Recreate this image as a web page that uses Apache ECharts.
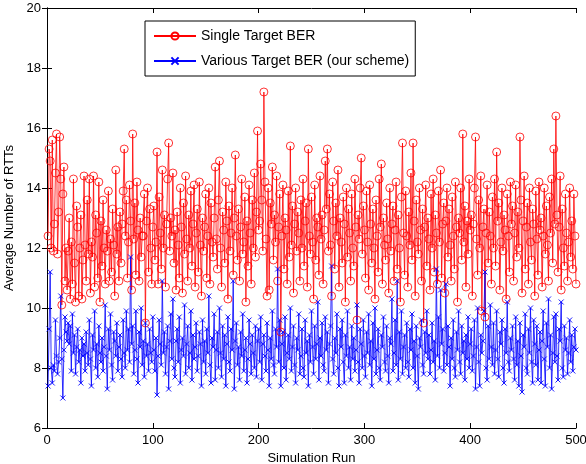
<!DOCTYPE html>
<html>
<head>
<meta charset="utf-8">
<script src="https://cdn.jsdelivr.net/npm/echarts@6/dist/echarts.min.js"></script>
<style>html,body{margin:0;padding:0;background:#fff}#c{width:586px;height:464px}</style>
</head>
<body>
<div id="c"></div>
<script>
const xTicks = [0, 100, 200, 300, 400, 500];
const yTicks = [6, 8, 10, 12, 14, 16, 18, 20];
const seriesNames = ["Single Target BER", "Various Target BER (our scheme)"];
const singleBER = [
12.4,15.3,14.9,12.0,15.6,11.9,12.8,14.5,15.8,11.8,13.2,15.7,14.3,10.1,13.8,14.7,10.9,12.0,10.6,11.9,
13.0,10.3,12.2,10.8,14.3,11.5,10.2,13.4,12.7,10.4,12.0,13.1,10.3,11.6,14.4,12.1,10.9,13.6,11.8,14.3,
10.5,12.2,11.7,14.4,10.7,13.1,12.5,11.0,14.2,10.2,12.9,11.4,13.6,12.0,10.8,12.6,11.9,13.9,10.9,12.3,
11.2,13.3,12.1,10.4,14.6,11.8,12.7,10.9,13.2,11.5,12.8,13.9,15.3,12.4,13.6,11.0,12.2,14.1,12.9,10.6,
15.8,12.3,13.5,11.1,14.2,12.6,10.9,13.0,11.7,12.4,12.4,13.8,9.5,12.9,14.0,11.2,13.3,12.0,10.8,12.7,
13.4,11.6,12.2,15.2,10.8,13.7,12.5,11.3,14.6,12.0,13.1,10.7,12.8,14.3,15.5,11.9,13.0,12.4,14.5,11.5,
12.6,10.6,13.2,12.1,11.0,14.0,12.7,10.5,13.5,11.8,14.4,12.3,10.9,13.1,12.0,13.9,11.4,12.8,14.1,10.7,
12.5,13.3,11.2,14.2,12.1,10.4,13.0,11.9,12.7,13.8,11.0,12.4,14.0,10.8,13.5,12.2,11.7,13.0,14.7,12.3,
11.3,13.6,14.9,12.0,10.7,13.2,12.6,11.5,14.2,12.9,10.3,13.4,11.9,12.5,14.0,11.1,13.0,15.1,12.4,11.6,
13.3,10.9,12.7,14.3,11.8,12.2,13.7,10.2,12.9,11.4,14.1,12.5,10.8,13.6,12.0,14.5,11.7,13.2,15.9,12.6,
12.9,14.8,13.6,11.9,17.2,14.2,12.3,10.4,14.0,10.6,13.5,12.8,14.7,11.6,13.1,12.2,14.4,10.9,12.7,13.8,
9.2,12.4,14.1,11.3,13.0,12.6,10.8,13.9,11.7,15.4,12.1,13.4,10.5,12.8,14.0,11.9,13.2,12.5,10.9,13.6,
12.0,14.3,11.4,12.9,13.5,10.7,15.3,12.4,11.8,13.7,12.2,10.3,14.1,11.6,13.0,12.7,11.1,14.4,12.3,13.1,
10.8,12.6,14.9,13.3,15.3,11.9,13.8,12.1,10.4,14.2,12.9,11.3,13.5,12.4,14.6,10.7,13.0,12.2,11.5,13.7,
12.8,10.2,14.0,11.7,13.3,12.5,10.9,13.8,12.0,11.4,14.3,12.7,9.6,13.1,12.3,14.0,15.0,11.8,13.4,12.6,
11.0,13.9,12.2,10.6,14.1,12.8,11.5,13.3,12.0,10.3,13.6,12.4,11.2,14.3,12.7,14.8,10.8,13.0,12.1,11.6,
13.5,12.3,10.5,14.0,11.9,12.8,13.4,10.9,12.6,14.2,11.3,13.1,12.0,10.2,13.7,15.5,12.5,11.1,13.9,12.4,
10.7,13.2,12.1,14.5,11.6,15.5,12.9,10.4,13.6,12.2,11.8,14.0,12.6,10.9,13.3,9.5,12.7,14.1,11.4,13.0,
12.3,10.6,13.8,12.0,14.3,11.2,13.1,12.5,10.8,13.9,12.2,14.6,11.0,12.8,13.5,10.5,12.9,14.0,11.7,13.3,
12.1,10.9,13.7,12.4,11.3,14.2,12.7,10.2,13.0,12.5,14.0,11.6,15.8,12.2,13.4,10.7,12.9,11.8,14.3,12.6,
13.1,10.4,12.8,14.0,15.7,12.3,11.1,13.6,12.0,14.4,9.9,12.7,13.3,9.7,12.5,14.1,11.5,13.2,12.4,10.8,
13.7,12.0,14.3,11.4,15.2,12.9,13.5,10.6,12.2,14.0,11.9,13.1,12.6,10.3,13.8,12.4,11.2,14.2,12.8,13.4,
10.9,12.5,14.1,11.7,13.2,12.0,15.7,13.6,10.5,12.9,14.4,11.3,12.7,13.5,10.8,14.0,12.2,11.6,13.3,12.8,
10.4,13.9,12.3,11.1,14.2,12.6,13.0,10.7,12.4,14.0,11.8,13.4,12.1,10.9,13.7,12.5,14.3,11.5,15.3,12.8,
16.4,13.1,11.2,12.7,14.4,10.6,13.3,12.0,11.4,13.8,12.5,10.9,12.2,14.0,11.7,12.9,11.3,13.8,12.4,10.8
];
const variousBER = [
7.4,9.3,11.2,8.0,7.5,8.1,7.9,9.6,8.4,7.8,8.2,9.0,10.4,8.3,7.0,8.6,9.7,9.2,8.9,9.5,
8.8,9.4,7.9,9.8,8.5,9.1,7.8,8.7,9.3,8.2,8.6,7.5,9.0,8.4,8.8,7.9,9.2,8.5,8.1,9.6,
8.3,7.4,9.1,8.6,9.9,8.0,8.8,7.7,9.4,8.5,8.2,9.0,7.9,8.7,10.1,8.4,7.3,9.3,8.6,9.8,
8.1,7.6,9.2,8.9,8.4,9.5,7.9,8.7,9.1,8.3,7.7,9.6,8.5,8.0,9.9,8.6,9.3,8.2,11.7,8.8,
9.4,7.8,8.6,9.9,8.3,7.5,9.2,8.7,10.0,8.1,8.9,7.7,9.5,8.4,8.8,7.9,9.3,8.5,8.2,9.7,
8.6,7.9,9.0,7.1,8.4,9.6,8.8,8.1,10.9,8.5,9.2,7.8,8.7,9.4,7.3,8.9,9.8,8.3,10.3,8.0,
7.7,8.9,9.3,8.2,9.7,7.5,8.6,9.0,8.4,10.1,7.8,8.8,9.4,8.0,8.5,9.9,7.6,9.1,8.3,8.7,
9.5,7.9,8.4,9.2,8.8,7.4,9.6,8.2,8.9,7.8,9.3,8.5,10.4,8.1,7.5,9.0,8.7,9.8,7.6,8.6,
9.2,8.0,10.0,8.5,7.7,9.4,8.3,9.1,7.4,8.8,9.7,8.2,7.9,9.3,8.6,10.9,7.3,8.9,9.5,8.1,
8.7,7.6,9.2,8.4,9.8,7.9,8.6,9.0,7.5,8.3,9.6,8.8,7.8,9.1,8.5,8.0,9.4,7.7,8.9,9.3,
8.2,9.7,7.6,8.8,9.1,8.4,7.9,9.5,8.6,7.4,9.0,8.3,9.9,8.1,7.8,9.3,8.7,11.3,8.2,9.6,
7.4,8.8,9.2,8.0,9.7,7.6,8.5,9.1,8.3,10.0,7.9,8.7,9.4,8.1,7.5,9.0,8.6,9.8,7.8,8.4,
9.3,8.0,7.7,9.6,8.5,8.9,7.4,9.1,8.2,9.9,8.7,7.8,9.4,8.3,8.8,10.2,7.6,9.0,8.4,9.5,
8.1,7.9,9.7,8.6,9.2,7.5,8.8,9.4,11.4,8.3,7.8,9.0,8.5,9.8,8.0,7.4,9.3,8.7,9.6,8.2,
7.5,9.1,8.4,9.9,8.0,8.7,7.6,9.4,8.3,9.0,7.9,8.6,10.1,8.2,7.5,9.3,8.8,8.0,9.6,8.4,
7.7,9.2,8.5,9.8,8.1,8.9,7.4,9.5,8.3,10.0,7.8,8.6,9.3,8.0,7.6,9.1,8.7,9.7,8.2,7.9,
9.4,8.4,7.5,9.0,8.8,10.3,7.9,8.5,9.6,8.1,10.9,7.6,9.2,8.3,9.9,7.8,8.7,9.1,8.0,9.5,
8.2,7.7,9.3,8.6,9.8,8.0,8.9,7.5,9.4,8.4,7.3,9.0,8.7,9.6,8.1,7.8,9.2,8.5,9.9,8.3,
9.1,7.8,8.6,9.5,8.2,8.9,7.6,11.3,8.4,9.7,8.0,10.6,8.8,9.3,7.9,8.5,10.8,8.1,9.4,8.7,
7.4,9.0,8.3,9.6,8.0,7.7,9.2,8.6,9.9,8.2,7.8,9.4,8.5,8.9,7.6,9.1,8.3,9.7,8.0,8.8,
9.3,7.9,8.4,9.6,7.3,8.7,10.0,8.2,7.4,9.1,8.5,8.9,9.9,11.2,8.0,7.6,9.4,8.3,10.1,8.7,
8.1,9.5,7.8,8.6,9.9,8.3,7.7,9.2,8.8,9.6,8.0,7.5,9.3,8.5,10.2,8.2,7.9,9.0,8.6,9.4,
8.3,7.6,9.7,8.1,8.9,7.4,9.5,8.4,7.2,9.1,8.7,9.8,8.0,7.8,9.3,8.5,10.0,8.2,7.5,9.6,
8.8,8.1,9.4,7.6,8.6,9.2,7.5,8.9,9.9,8.3,7.4,9.5,8.7,10.3,8.0,9.1,7.3,8.5,9.7,8.2,
9.8,8.4,7.6,9.3,8.9,10.2,8.0,7.7,9.4,8.6,9.0,7.8,8.5,9.6,8.2,9.1,7.9,8.7,9.3,8.6
];

const FONT = '"Liberation Sans", Arial, Helvetica, sans-serif';
const toPairs = arr => arr.map((v, i) => [i + 1, v]);
const xPath = 'path://M0,0L10,10M10,0L0,10';

const chart = echarts.init(document.getElementById('c'), null, {renderer: 'canvas'});
const axisCommon = {
  axisLine: {show: true, lineStyle: {color: '#000', width: 1}},
  axisTick: {show: true, inside: true, length: 5, lineStyle: {color: '#000', width: 1}},
  splitLine: {show: false}
};
chart.setOption({
  animation: false,
  backgroundColor: '#fff',
  grid: {left: 47, right: 10, top: 8, bottom: 36, containLabel: false, outerBoundsMode: 'none'},
  legend: {
    orient: 'vertical',
    left: 145, top: 21,
    backgroundColor: '#fff',
    borderColor: '#000', borderWidth: 1,
    padding: [8, 6, 8, 8],
    itemGap: 11,
    itemWidth: 42, itemHeight: 9,
    textStyle: {fontFamily: FONT, fontSize: 14, color: '#000'},
    data: seriesNames
  },
  xAxis: [
    Object.assign({}, axisCommon, {
      type: 'value', min: 0, max: 500, interval: 100, position: 'bottom',
      axisLabel: {fontFamily: FONT, fontSize: 13, color: '#000', margin: 6},
      name: 'Simulation Run', nameLocation: 'middle', nameGap: 20,
      nameTextStyle: {fontFamily: FONT, fontSize: 13, color: '#000'}
    }),
    Object.assign({}, axisCommon, {
      type: 'value', min: 0, max: 500, interval: 100, position: 'top',
      axisLabel: {show: false}
    })
  ],
  yAxis: [
    Object.assign({}, axisCommon, {
      type: 'value', min: 6, max: 20, interval: 2, position: 'left',
      axisLabel: {fontFamily: FONT, fontSize: 13, color: '#000', margin: 6},
      name: 'Average Number of RTTs', nameLocation: 'middle', nameGap: 27,
      nameTextStyle: {fontFamily: FONT, fontSize: 13, color: '#000'}
    }),
    Object.assign({}, axisCommon, {
      type: 'value', min: 6, max: 20, interval: 2, position: 'right',
      axisLabel: {show: false}
    })
  ],
  series: [
    {
      name: seriesNames[0], type: 'line', xAxisIndex: 0, yAxisIndex: 0,
      data: toPairs(singleBER),
      symbol: 'circle', symbolSize: 8, showAllSymbol: true,
      lineStyle: {color: '#ff0000', width: 0.8},
      itemStyle: {color: 'rgba(255,0,0,0)', borderColor: '#ff0000', borderWidth: 0.8},
      emphasis: {disabled: true}
    },
    {
      name: seriesNames[1], type: 'line', xAxisIndex: 0, yAxisIndex: 0,
      data: toPairs(variousBER),
      symbol: xPath, symbolSize: 5, showAllSymbol: true,
      lineStyle: {color: '#0000ff', width: 0.8},
      itemStyle: {color: 'rgba(0,0,255,0)', borderColor: '#0000ff', borderWidth: 0.9},
      emphasis: {disabled: true}
    }
  ]
});
</script>
</body>
</html>
